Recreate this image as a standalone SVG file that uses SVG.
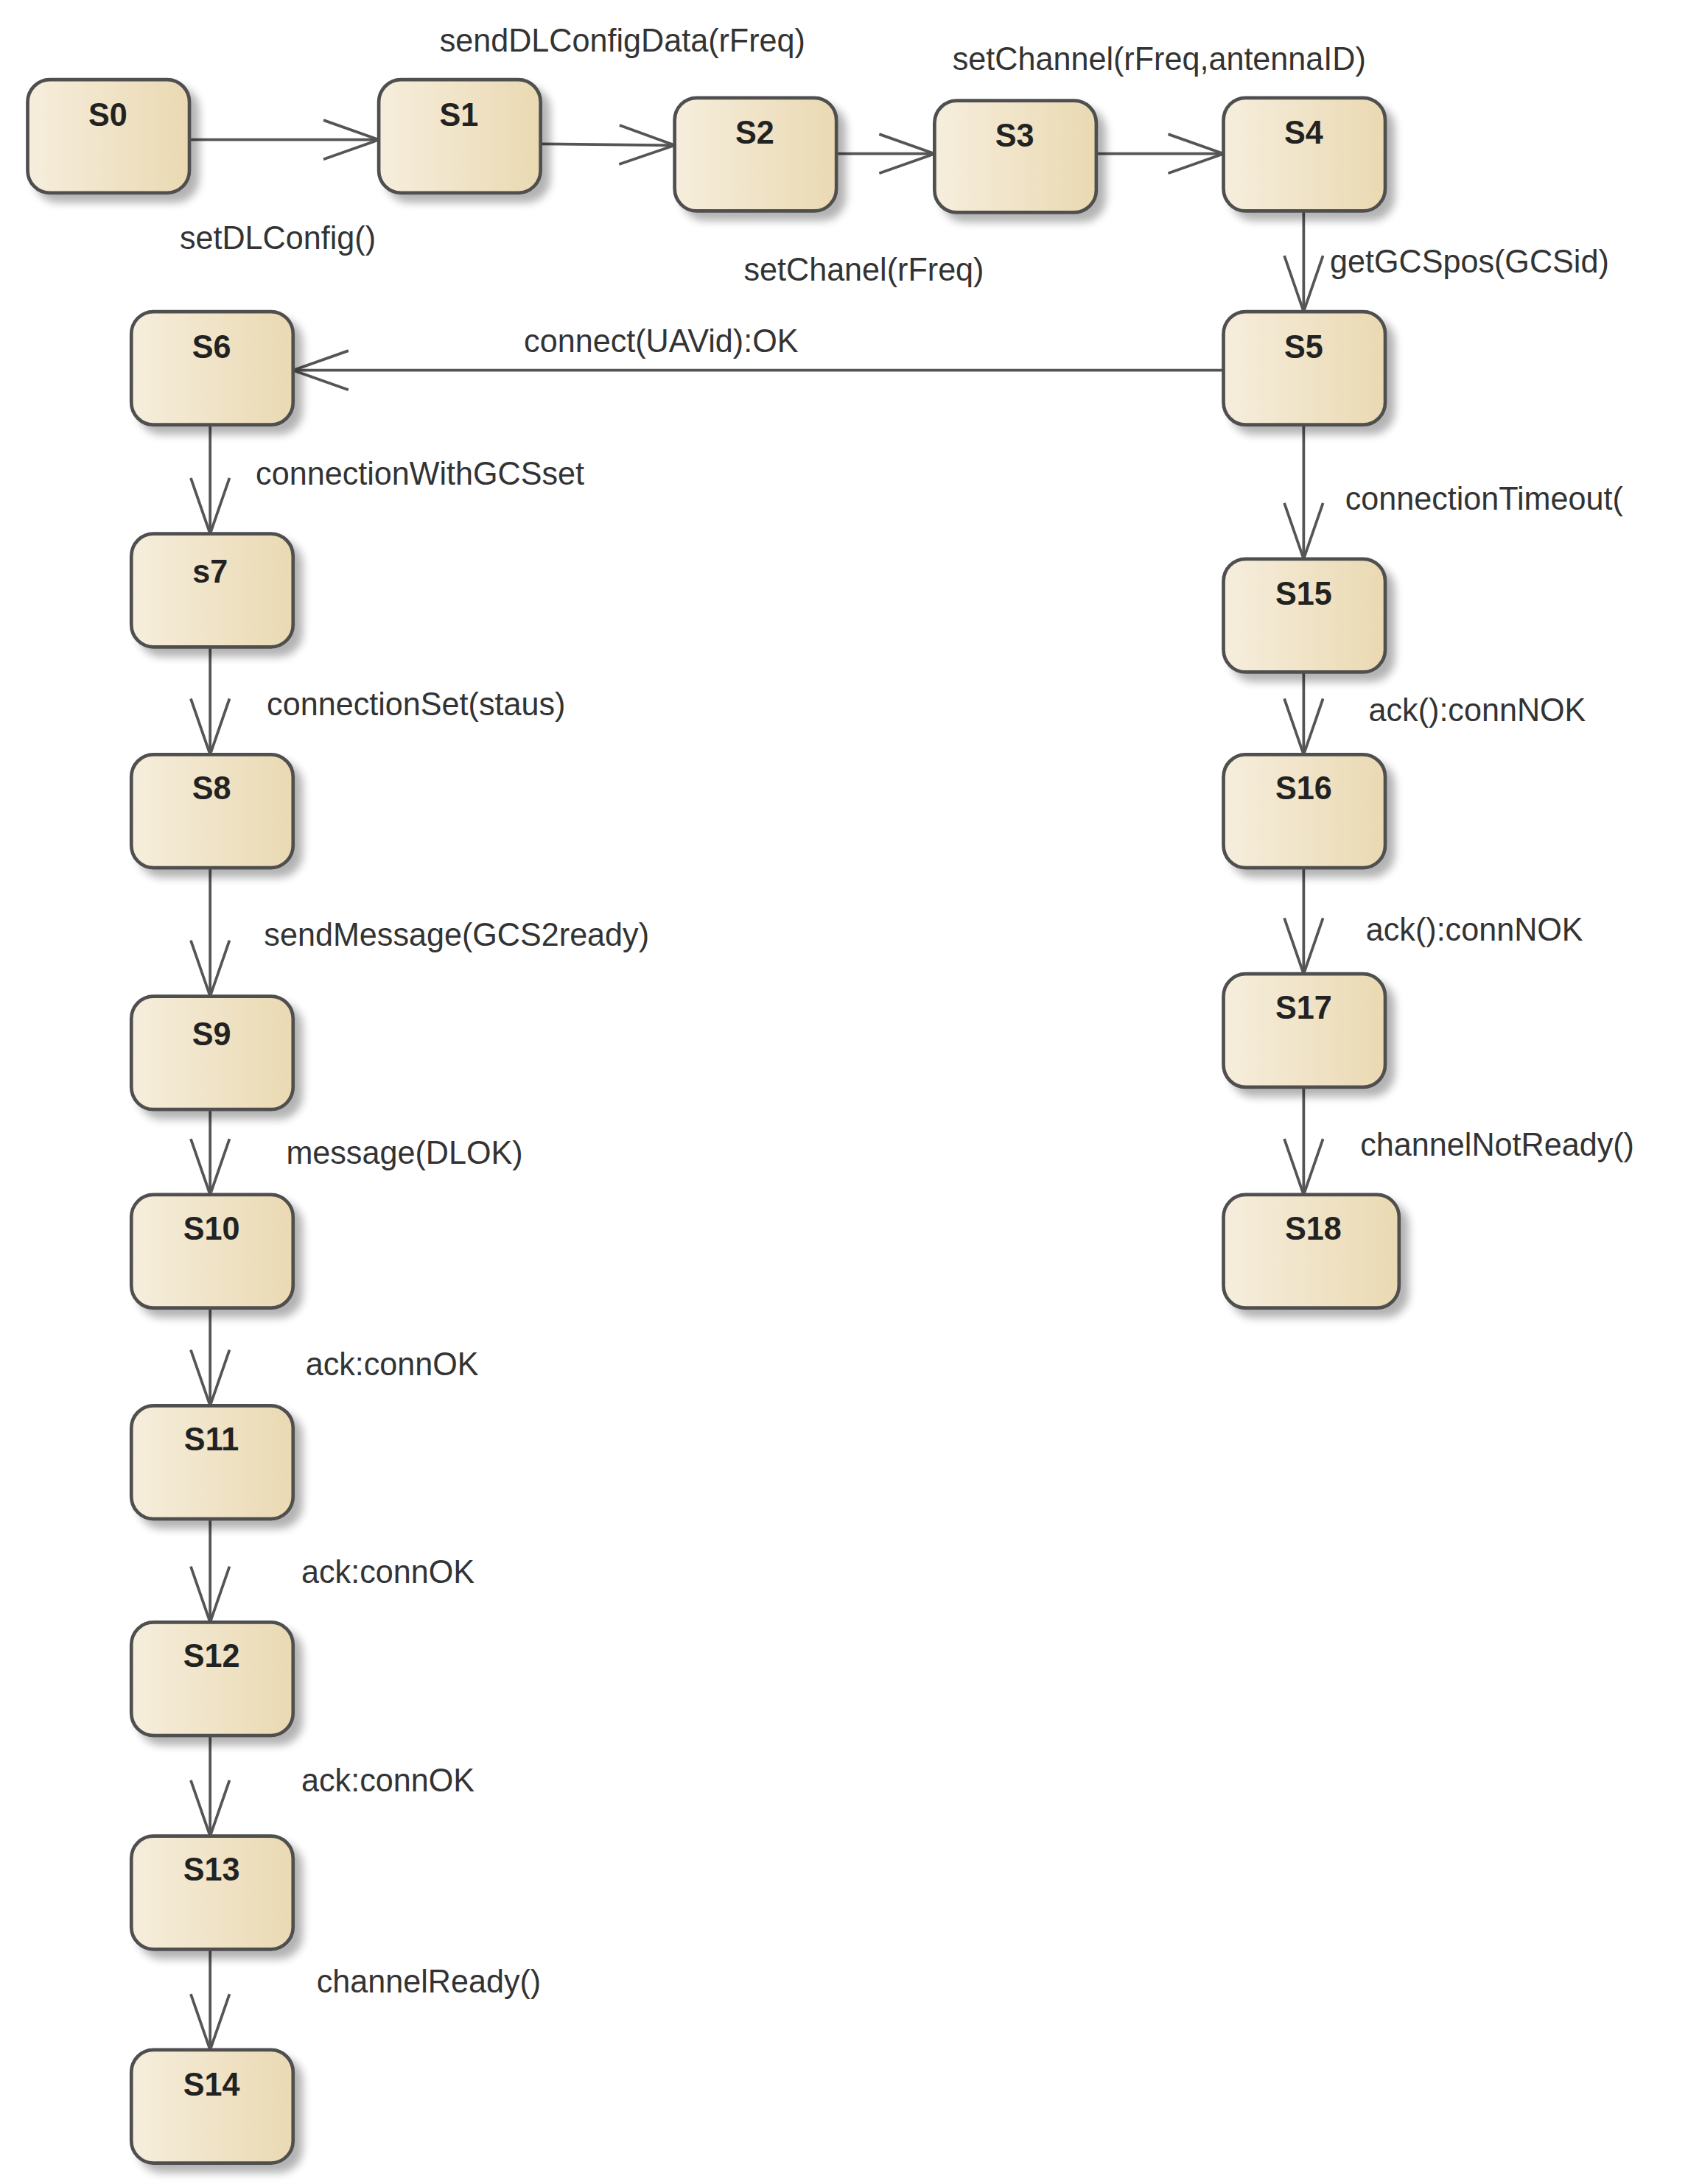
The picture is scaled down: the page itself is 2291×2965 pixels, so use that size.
<svg xmlns="http://www.w3.org/2000/svg" width="2291" height="2965" viewBox="0 0 2291 2965">
<defs>
<linearGradient id="g" x1="0" x2="1" y1="0" y2="0"><stop offset="0" stop-color="#f6eedd"/><stop offset="1" stop-color="#ead9b2"/></linearGradient>
<filter id="sh" x="-20%" y="-20%" width="150%" height="150%"><feGaussianBlur in="SourceAlpha" stdDeviation="3"/><feOffset dx="6" dy="6"/><feComponentTransfer><feFuncA type="linear" slope="0.3"/></feComponentTransfer><feMerge><feMergeNode/><feMergeNode in="SourceGraphic"/></feMerge></filter>
<marker id="ar" viewBox="-44 -18 48 36" refX="0" refY="0" markerWidth="48" markerHeight="36" markerUnits="userSpaceOnUse" orient="auto" overflow="visible"><path d="M-40,-14 L0,0 L-40,14" fill="none" stroke="#555" stroke-width="2"/></marker>
</defs>
<style>
.n rect{fill:url(#g);stroke:#505050;stroke-width:2.5;filter:url(#sh)}
.n text{font-family:"Liberation Sans",Arial,sans-serif;font-weight:bold;font-size:23px;fill:#222;text-anchor:middle}
.e line{stroke:#555;stroke-width:2;marker-end:url(#ar)}
.l{font-family:"Liberation Sans",Arial,sans-serif;font-size:23px;fill:#333}
</style>
<rect width="2291" height="2965" fill="#fff"/>
<g transform="scale(1.8763,1.897)">
<g id="edges" class="e">
<line x1="137" y1="100" x2="274" y2="100"/>
<line x1="391" y1="103" x2="488" y2="104"/>
<line x1="605" y1="110" x2="676" y2="110"/>
<line x1="793" y1="110" x2="885" y2="110"/>
<line x1="943" y1="151" x2="943" y2="223"/>
<line x1="885" y1="265" x2="212" y2="265"/>
<line x1="943" y1="304" x2="943" y2="400"/>
<line x1="943" y1="481" x2="943" y2="540"/>
<line x1="943" y1="621" x2="943" y2="697"/>
<line x1="943" y1="778" x2="943" y2="855"/>
<line x1="152" y1="304" x2="152" y2="382"/>
<line x1="152" y1="463" x2="152" y2="540"/>
<line x1="152" y1="621" x2="152" y2="713"/>
<line x1="152" y1="794" x2="152" y2="855"/>
<line x1="152" y1="936" x2="152" y2="1006"/>
<line x1="152" y1="1087" x2="152" y2="1161"/>
<line x1="152" y1="1242" x2="152" y2="1314"/>
<line x1="152" y1="1395" x2="152" y2="1467"/>
</g>
<g id="labels">
<text class="l" x="318" y="37">sendDLConfigData(rFreq)</text>
<text class="l" x="130" y="178">setDLConfig()</text>
<text class="l" x="689" y="50">setChannel(rFreq,antennaID)</text>
<text class="l" x="538" y="201">setChanel(rFreq)</text>
<text class="l" x="962" y="195">getGCSpos(GCSid)</text>
<text class="l" x="379" y="252">connect(UAVid):OK</text>
<text class="l" x="185" y="347">connectionWithGCSset</text>
<text class="l" x="193" y="512">connectionSet(staus)</text>
<text class="l" x="191" y="677">sendMessage(GCS2ready)</text>
<text class="l" x="207" y="833">message(DLOK)</text>
<text class="l" x="221" y="984">ack:connOK</text>
<text class="l" x="218" y="1133">ack:connOK</text>
<text class="l" x="218" y="1282">ack:connOK</text>
<text class="l" x="229" y="1426">channelReady()</text>
<text class="l" x="973" y="365">connectionTimeout(</text>
<text class="l" x="990" y="516">ack():connNOK</text>
<text class="l" x="988" y="673">ack():connNOK</text>
<text class="l" x="984" y="827">channelNotReady()</text>
</g>
<g id="S0" class="n"><rect x="20" y="57" width="117" height="81" rx="16"/><text x="78" y="90">S0</text></g>
<g id="S1" class="n"><rect x="274" y="57" width="117" height="81" rx="16"/><text x="332" y="90">S1</text></g>
<g id="S2" class="n"><rect x="488" y="70" width="117" height="81" rx="16"/><text x="546" y="103">S2</text></g>
<g id="S3" class="n"><rect x="676" y="72" width="117" height="80" rx="16"/><text x="734" y="105">S3</text></g>
<g id="S4" class="n"><rect x="885" y="70" width="117" height="81" rx="16"/><text x="943" y="103">S4</text></g>
<g id="S5" class="n"><rect x="885" y="223" width="117" height="81" rx="16"/><text x="943" y="256">S5</text></g>
<g id="S6" class="n"><rect x="95" y="223" width="117" height="81" rx="16"/><text x="153" y="256">S6</text></g>
<g id="s7" class="n"><rect x="95" y="382" width="117" height="81" rx="16"/><text x="152" y="417">s7</text></g>
<g id="S8" class="n"><rect x="95" y="540" width="117" height="81" rx="16"/><text x="153" y="572">S8</text></g>
<g id="S9" class="n"><rect x="95" y="713" width="117" height="81" rx="16"/><text x="153" y="748">S9</text></g>
<g id="S10" class="n"><rect x="95" y="855" width="117" height="81" rx="16"/><text x="153" y="887">S10</text></g>
<g id="S11" class="n"><rect x="95" y="1006" width="117" height="81" rx="16"/><text x="153" y="1038">S11</text></g>
<g id="S12" class="n"><rect x="95" y="1161" width="117" height="81" rx="16"/><text x="153" y="1193">S12</text></g>
<g id="S13" class="n"><rect x="95" y="1314" width="117" height="81" rx="16"/><text x="153" y="1346">S13</text></g>
<g id="S14" class="n"><rect x="95" y="1467" width="117" height="81" rx="16"/><text x="153" y="1500">S14</text></g>
<g id="S15" class="n"><rect x="885" y="400" width="117" height="81" rx="16"/><text x="943" y="433">S15</text></g>
<g id="S16" class="n"><rect x="885" y="540" width="117" height="81" rx="16"/><text x="943" y="572">S16</text></g>
<g id="S17" class="n"><rect x="885" y="697" width="117" height="81" rx="16"/><text x="943" y="729">S17</text></g>
<g id="S18" class="n"><rect x="885" y="855" width="127" height="81" rx="16"/><text x="950" y="887">S18</text></g>
</g>
</svg>
